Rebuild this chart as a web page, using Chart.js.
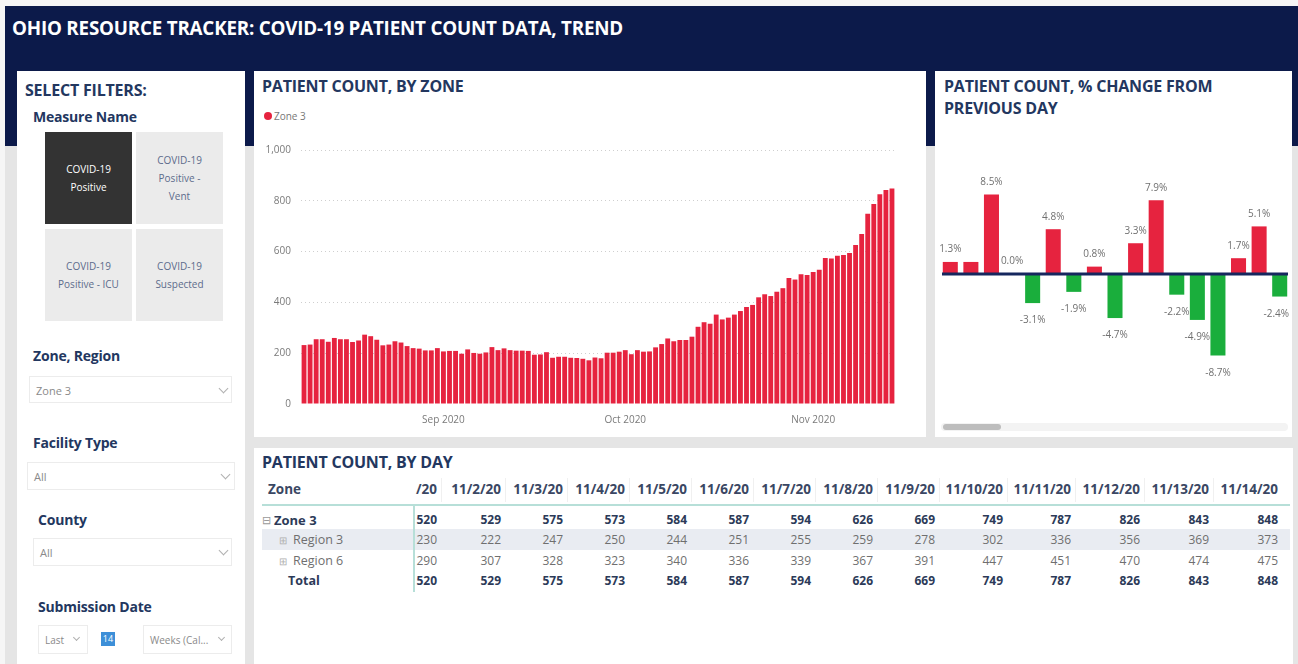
<!DOCTYPE html>
<html>
<head>
<meta charset="utf-8">
<script src="https://cdn.jsdelivr.net/npm/chart.js@4.4.0/dist/chart.umd.min.js"></script>
<style>
body{margin:0;width:1298px;height:664px;overflow:hidden;background:#e5e5e5;font-family:"Open Sans",sans-serif;position:relative}
.abs{position:absolute}
.card{position:absolute;background:#fff}
.ctitle{position:absolute;color:#23375f;font-weight:700;font-size:16px;line-height:18px;white-space:nowrap;letter-spacing:-0.2px}
.ftitle{position:absolute;color:#23375f;font-weight:700;font-size:14px;line-height:18px;white-space:nowrap;letter-spacing:-0.2px}
.tile{position:absolute;width:87px;height:92px;background:#ebebeb;color:#5d6c8c;font-size:10px;line-height:18px;display:flex;align-items:center;justify-content:center;text-align:center}
.tile.on{background:#333;color:#fff}
.dd{position:absolute;border:1px solid #ececec;background:#fff;color:#8a8a8a;font-size:11px;box-sizing:border-box}
.dd span{position:absolute;left:6px;top:50%;transform:translateY(-50%)}
.chev{position:absolute;width:6px;height:6px;border-right:1px solid #b0b0b0;border-bottom:1px solid #b0b0b0;transform:rotate(45deg)}
.cell{position:absolute;white-space:nowrap;font-size:12px;line-height:16px}
</style>
</head>
<body>
<div class="abs" style="left:0;top:0;width:1298px;height:6px;background:#f6f6f6"></div>
<div class="abs" style="left:0;top:0;width:5px;height:664px;background:#f6f6f6"></div>
<div class="abs" style="left:5px;top:6px;width:1293px;height:140px;background:#0c1a4a"></div>
<div class="abs" style="left:12px;top:17px;color:#fff;font-weight:700;font-size:18.8px;line-height:22px;letter-spacing:-0.2px;white-space:nowrap">OHIO RESOURCE TRACKER: COVID-19 PATIENT COUNT DATA, TREND</div>

<!-- filters card -->
<div class="card" style="left:17px;top:71px;width:228px;height:600px"></div>
<div class="ctitle" style="left:25px;top:81px">SELECT FILTERS:</div>
<div class="ftitle" style="left:33px;top:108px">Measure Name</div>
<div class="tile on" style="left:45px;top:132px">COVID-19<br>Positive</div>
<div class="tile" style="left:136px;top:132px">COVID-19<br>Positive -<br>Vent</div>
<div class="tile" style="left:45px;top:229px">COVID-19<br>Positive - ICU</div>
<div class="tile" style="left:136px;top:229px">COVID-19<br>Suspected</div>

<div class="ftitle" style="left:33px;top:347px">Zone, Region</div>
<div class="dd" style="left:29px;top:376px;width:203px;height:27px"><span>Zone 3</span><div class="chev" style="left:190px;top:8px"></div></div>
<div class="ftitle" style="left:33px;top:434px">Facility Type</div>
<div class="dd" style="left:27px;top:462px;width:208px;height:28px"><span>All</span><div class="chev" style="left:194px;top:8px"></div></div>
<div class="ftitle" style="left:38px;top:511px">County</div>
<div class="dd" style="left:33px;top:538px;width:199px;height:28px"><span>All</span><div class="chev" style="left:186px;top:8px"></div></div>
<div class="ftitle" style="left:38px;top:598px">Submission Date</div>
<div class="dd" style="left:38px;top:625px;width:50px;height:29px;font-size:10px"><span>Last</span><div class="chev" style="left:35px;top:9px;width:4px;height:4px"></div></div>
<div class="abs" style="left:101px;top:632px;width:14px;height:14px;background:#3d8fd8;color:#fff;font-size:9px;line-height:14px;text-align:center">14</div>
<div class="dd" style="left:143px;top:625px;width:89px;height:29px;font-size:10px"><span>Weeks (Cal...</span><div class="chev" style="left:75px;top:9px;width:4px;height:4px"></div></div>

<!-- zone chart card -->
<div class="card" style="left:254px;top:71px;width:672px;height:366px"></div>
<div class="ctitle" style="left:262px;top:77px">PATIENT COUNT, BY ZONE</div>
<div class="abs" style="left:264px;top:112px;width:8px;height:8px;border-radius:50%;background:#e6233f"></div>
<div class="abs" style="left:274px;top:109px;font-size:10px;line-height:14px;color:#777">Zone 3</div>
<div class="abs" style="left:258px;top:134px;width:640px;height:300px"><canvas id="zoneChart"></canvas></div>

<!-- % change card -->
<div class="card" style="left:935px;top:71px;width:357px;height:366px"></div>
<div class="ctitle" style="left:944px;top:77px">PATIENT COUNT, % CHANGE FROM</div>
<div class="ctitle" style="left:944px;top:99px">PREVIOUS DAY</div>
<div class="abs" style="left:940px;top:160px;width:350px;height:260px"><canvas id="pctChart"></canvas></div>
<div class="abs" style="left:941px;top:423px;width:347px;height:8px;background:#f3f3f3;border-radius:4px"></div>
<div class="abs" style="left:943px;top:424px;width:58px;height:6px;background:#bdbdbd;border-radius:3px"></div>

<!-- table card -->
<div class="card" style="left:254px;top:448px;width:1039px;height:220px"></div>
<div class="ctitle" style="left:262px;top:453px">PATIENT COUNT, BY DAY</div>
<div class="abs" style="left:262px;top:529px;width:1028px;height:21px;background:#e9ecf2"></div>
<div class="abs" style="left:262px;top:504px;width:1028px;height:2px;background:#b7dfd8"></div>
<div class="abs" style="left:413px;top:506px;width:2px;height:86px;background:#b7dfd8"></div>
<div id="tableArea"></div>

<script>
// daily patient counts, Zone 3, Aug 9 - Oct 31 2020
const earlyCounts = [232, 234, 255, 255, 245, 260, 255, 255, 244, 250,
  273, 267, 253, 231, 234, 247, 242, 228, 220, 218,
  211, 211, 220, 207, 209, 209, 198, 215, 201, 198,
  203, 224, 212, 219, 212, 210, 210, 209, 194, 195,
  204, 182, 186, 186, 182, 181, 178, 172, 183,
  180, 202, 202, 206, 212, 196, 212, 206, 207, 223,
  236, 258, 247, 252, 252, 265, 304, 322, 316, 352,
  333, 340, 352, 366, 382, 390, 420, 432, 425, 442,
  456, 496, 490, 511, 508];
const firstDay = '2020-08-09';

// table (Nov 1 - Nov 14)
const tableDates = ['11/1/20', '11/2/20', '11/3/20', '11/4/20', '11/5/20', '11/6/20', '11/7/20',
  '11/8/20', '11/9/20', '11/10/20', '11/11/20', '11/12/20', '11/13/20', '11/14/20'];
const zone3Row = [520, 529, 575, 573, 584, 587, 594, 626, 669, 749, 787, 826, 843, 848];
const region3Row = [230, 222, 247, 250, 244, 251, 255, 259, 278, 302, 336, 356, 369, 373];
const region6Row = [290, 307, 328, 323, 340, 336, 339, 367, 391, 447, 451, 470, 474, 475];

// % change from previous day
const pctCategories = ['d1', 'd2', 'd3', 'd4', 'd5', 'd6', 'd7', 'd8', 'd9', 'd10', 'd11', 'd12', 'd13', 'd14', 'd15', 'd16', 'd17'];
const pctChange = [1.3, 1.3, 8.5, 0.0, -3.1, 4.8, -1.9, 0.8, -4.7, 3.3, 7.9, -2.2, -4.9, -8.7, 1.7, 5.1, -2.4];

const yTicks = [0, 200, 400, 600, 800, 1000];
const monthNames = ['Jan', 'Feb', 'Mar', 'Apr', 'May', 'Jun', 'Jul', 'Aug', 'Sep', 'Oct', 'Nov', 'Dec'];

const RED = '#e6233f';
const GREEN = '#1aae3c';

// build the day categories
const dailyCounts = earlyCounts.concat(zone3Row);
const dayLabels = [];
const d0 = new Date(firstDay + 'T00:00:00Z');
for (let i = 0; i < dailyCounts.length; i++) {
  const d = new Date(d0.getTime() + i * 86400000);
  dayLabels.push(d.toISOString().slice(0, 10));
}

new Chart(document.getElementById('zoneChart'), {
  type: 'bar',
  data: {
    labels: dayLabels,
    datasets: [{
      label: 'Zone 3',
      data: dailyCounts,
      backgroundColor: RED,
      barPercentage: 0.8,
      categoryPercentage: 1.0
    }]
  },
  options: {
    responsive: true,
    maintainAspectRatio: false,
    animation: false,
    layout: { padding: { top: 8, right: 3, left: 0, bottom: 0 } },
    plugins: { legend: { display: false }, tooltip: { enabled: false } },
    scales: {
      x: {
        grid: { display: false },
        border: { display: false },
        ticks: {
          autoSkip: false,
          maxRotation: 0,
          padding: 2,
          color: '#7a7a7a',
          font: { family: 'Open Sans', size: 10 },
          callback: function (value) {
            const s = this.getLabelForValue(value);
            if (s.slice(8) === '01') {
              return monthNames[parseInt(s.slice(5, 7), 10) - 1] + ' ' + s.slice(0, 4);
            }
            return null;
          }
        },
        afterFit: function (s) { s.height = 30; }
      },
      y: {
        min: 0,
        max: 1000,
        afterBuildTicks: function (s) { s.ticks = yTicks.map(v => ({ value: v })); },
        grid: {
          drawTicks: false,
          color: ctx => (ctx.tick && ctx.tick.value === 0) ? 'rgba(0,0,0,0)' : '#cfcfcf'
        },
        border: { display: false, dash: [1, 3] },
        ticks: {
          padding: 10,
          color: '#7a7a7a',
          font: { family: 'Open Sans', size: 10 },
          callback: v => v.toLocaleString('en-US')
        },
        afterFit: function (s) { s.width = 43; }
      }
    }
  }
});

// data labels + zero line for the % change chart
const pctLabelPlugin = {
  id: 'pctLabels',
  afterDatasetsDraw(chart) {
    const ctx = chart.ctx;
    const area = chart.chartArea;
    const y0 = chart.scales.y.getPixelForValue(0);
    ctx.save();
    ctx.strokeStyle = '#16275e';
    ctx.lineWidth = 3;
    ctx.beginPath();
    ctx.moveTo(area.left + 2, y0);
    ctx.lineTo(area.right - 2, y0);
    ctx.stroke();

    ctx.font = '10px "Open Sans"';
    ctx.fillStyle = '#707070';
    ctx.textAlign = 'center';
    ctx.textBaseline = 'middle';
    const placed = [];
    const meta = chart.getDatasetMeta(0);
    meta.data.forEach((bar, i) => {
      const v = chart.data.datasets[0].data[i];
      const txt = v.toFixed(1) + '%';
      const w = ctx.measureText(txt).width;
      let x = Math.min(bar.x, area.right - w / 2 - 1);
      const y = v >= 0 ? bar.y - 12.5 : bar.y + 17.5;
      const box = { l: x - w / 2, r: x + w / 2, t: y - 6, b: y + 6 };
      const hit = placed.some(p => box.l < p.r && box.r > p.l && box.t < p.b && box.b > p.t);
      if (hit) return;
      placed.push(box);
      ctx.fillText(txt, x, y);
    });
    ctx.restore();
  }
};

new Chart(document.getElementById('pctChart'), {
  type: 'bar',
  data: {
    labels: pctCategories,
    datasets: [{
      data: pctChange,
      backgroundColor: ctx => ctx.raw >= 0 ? RED : GREEN,
      barPercentage: 0.73,
      categoryPercentage: 1.0
    }]
  },
  options: {
    responsive: true,
    maintainAspectRatio: false,
    animation: false,
    layout: { padding: 0 },
    plugins: { legend: { display: false }, tooltip: { enabled: false } },
    scales: {
      x: { display: false },
      y: { display: false, min: -15.6, max: 12.2 }
    }
  },
  plugins: [pctLabelPlugin]
});

// table
const colRight = [437, 501, 563, 625, 687, 749, 811, 873, 935, 1003, 1071, 1140, 1209, 1278];
const area = document.getElementById('tableArea');
const clipBox = document.createElement('div');
clipBox.style.cssText = 'position:absolute;left:415px;top:470px;width:875px;height:130px;overflow:hidden';
area.appendChild(clipBox);

function addCell(text, left, top, style) {
  const el = document.createElement('div');
  el.className = 'cell';
  el.textContent = text;
  el.style.top = top + 'px';
  el.style.left = left + 'px';
  Object.assign(el.style, style);
  area.appendChild(el);
  return el;
}

const headStyle = { fontWeight: '700', color: '#3a4763', fontSize: '13.5px' };
const boldStyle = { fontWeight: '700', color: '#2c3a58' };
const lightStyle = { color: '#6f6f6f' };

addCell('Zone', 268, 481, headStyle);
addCell('\u229F', 262, 512, { color: '#9a9a9a', fontSize: '11px' });
addCell('Zone 3', 274, 512, Object.assign({}, boldStyle, { fontSize: '13px' }));
addCell('\u229E', 279, 532, { color: '#b0b0b0', fontSize: '10px' });
addCell('Region 3', 293, 532, Object.assign({}, lightStyle, { fontSize: '12.5px' }));
addCell('\u229E', 279, 553, { color: '#b0b0b0', fontSize: '10px' });
addCell('Region 6', 293, 553, Object.assign({}, lightStyle, { fontSize: '12.5px' }));
addCell('Total', 288, 573, Object.assign({}, boldStyle, { fontSize: '12.5px' }));

const rows = [
  { vals: zone3Row, top: 512, style: boldStyle },
  { vals: region3Row, top: 532, style: lightStyle },
  { vals: region6Row, top: 553, style: lightStyle },
  { vals: zone3Row, top: 573, style: boldStyle }
];
tableDates.forEach((dt, c) => {
  const r = colRight[c] - 415;
  const h = document.createElement('div');
  h.className = 'cell';
  h.textContent = dt;
  Object.assign(h.style, headStyle, { top: '11px', right: (875 - r) + 'px' });
  clipBox.appendChild(h);
  if (c > 0) {
    const sep = document.createElement('div');
    sep.style.cssText = 'position:absolute;top:8px;width:1px;height:24px;background:#f0f0f0';
    sep.style.left = (colRight[c - 1] - 415 + 4) + 'px';
    clipBox.appendChild(sep);
  }
  rows.forEach(row => {
    const el = document.createElement('div');
    el.className = 'cell';
    el.textContent = row.vals[c];
    Object.assign(el.style, row.style, { top: (row.top - 470) + 'px', right: (875 - r) + 'px' });
    clipBox.appendChild(el);
  });
});
</script>
</body>
</html>
